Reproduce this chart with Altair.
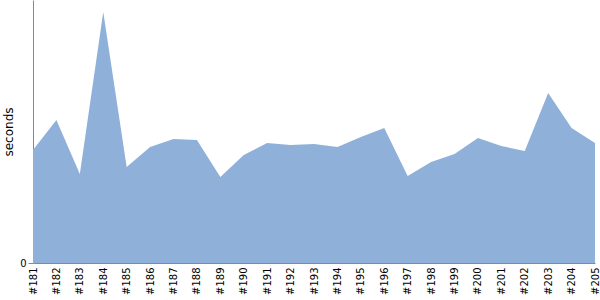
import altair as alt
import pandas as pd

builds = ["#181", "#182", "#183", "#184", "#185", "#186", "#187", "#188", "#189",
          "#190", "#191", "#192", "#193", "#194", "#195", "#196", "#197", "#198",
          "#199", "#200", "#201", "#202", "#203", "#204", "#205"]
seconds = [113, 143, 89, 251, 96, 116, 124, 123, 86, 108, 120, 118, 119, 116,
           126, 135, 87, 101, 109, 125, 117, 112, 170, 135, 120]

df = pd.DataFrame({"build": builds, "seconds": seconds})

chart = alt.Chart(df).mark_area(color="#8fb1d9", opacity=1).encode(
    x=alt.X("build:N", sort=builds,
            scale=alt.Scale(type="point", padding=0),
            axis=alt.Axis(title=None, labelAngle=-90, labelAlign="right",
                          labelBaseline="middle", ticks=False, labelPadding=4,
                          labelFont="DejaVu Sans", labelFontSize=10,
                          labelColor="black", domainColor="#888888",
                          labelOverlap=False)),
    y=alt.Y("seconds:Q", scale=alt.Scale(domain=[0, 263], nice=False, zero=True),
            axis=alt.Axis(title="seconds", values=[0], grid=False,
                          titleFont="DejaVu Sans", titleFontSize=12,
                          titleFontWeight="normal", titleColor="black",
                          labelFont="DejaVu Sans", labelFontSize=10,
                          labelColor="black", domainColor="#888888",
                          tickColor="#888888", tickSize=5, labelPadding=2,
                          titlePadding=4)),
).properties(
    width=562, height=263,
    autosize=alt.AutoSizeParams(type="none"),
    padding={"left": 33, "top": 0, "right": 5, "bottom": 37},
).configure_view(stroke=None)

chart.save("out.html", embed_options={"renderer": "svg", "actions": False})
